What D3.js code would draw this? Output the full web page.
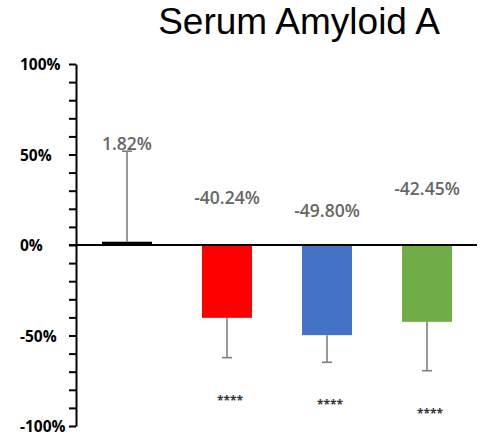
<!DOCTYPE html>
<html>
<head>
<meta charset="utf-8">
<script src="https://cdn.jsdelivr.net/npm/d3@7"></script>
<style>
  html, body { margin: 0; padding: 0; background: #fff; }
  svg { display: block; }
</style>
</head>
<body>
<svg id="chart" width="487" height="444"></svg>
<script>
// Percent change in serum amyloid A per group
const groups = ["G1", "G2", "G3", "G4"];
const changes = [1.82, -40.24, -49.80, -42.45];
const errors = [50, 22, 15, 27];
const barColors = ["#000000", "#ff0000", "#4472c4", "#70ad47"];
const significance = ["", "****", "****", "****"];
const majorTicks = [-100, -50, 0, 50, 100];
const minorTicks = d3.range(-100, 101, 10);

const svg = d3.select("#chart");

const x = d3.scaleBand().domain(groups).range([77, 477]).paddingInner(0.5).paddingOuter(0.25);
const y = d3.scaleLinear().domain([-100, 100]).range([426, 64]);

// Title
svg.append("text")
  .attr("x", 299).attr("y", 34)
  .attr("text-anchor", "middle")
  .attr("font-family", "Liberation Sans, Arial, sans-serif")
  .attr("font-size", 37)
  .attr("fill", "#000")
  .text("Serum Amyloid A");

// Bars
svg.selectAll("rect.bar").data(groups).join("rect")
  .attr("class", "bar")
  .attr("x", d => x(d))
  .attr("width", x.bandwidth())
  .attr("y", (d, i) => y(Math.max(0, changes[i])))
  .attr("height", (d, i) => Math.abs(y(changes[i]) - y(0)))
  .attr("fill", (d, i) => barColors[i]);

// Error bars (one-sided, away from zero)
const errEnd = i => changes[i] >= 0 ? changes[i] + errors[i] : changes[i] - errors[i];
const eb = svg.append("g").attr("stroke", "#7f7f7f").attr("stroke-width", 1.6);
groups.forEach((g, i) => {
  const cx = x(g) + x.bandwidth() / 2;
  eb.append("line").attr("x1", cx).attr("x2", cx).attr("y1", y(changes[i])).attr("y2", y(errEnd(i)));
  eb.append("line").attr("x1", cx - 5).attr("x2", cx + 5).attr("y1", y(errEnd(i))).attr("y2", y(errEnd(i)));
});

// Zero line
svg.append("line")
  .attr("x1", 69).attr("x2", 477)
  .attr("y1", y(0)).attr("y2", y(0))
  .attr("stroke", "#000").attr("stroke-width", 2);

// Y axis: minor ticks every 10%, labels on the 50% steps (left-aligned column)
const axis = d3.axisLeft(y)
  .tickValues(minorTicks)
  .tickSize(7)
  .tickSizeOuter(0)
  .tickFormat(d => majorTicks.includes(d) ? d + "%" : "");
const ag = svg.append("g").attr("transform", "translate(76,0)").call(axis);
ag.select(".domain").attr("stroke", "#000").attr("stroke-width", 2);
ag.selectAll(".tick line").attr("stroke", "#000").attr("stroke-width", 2);
ag.selectAll(".tick text")
  .attr("x", -56)
  .attr("dy", "0.36em")
  .attr("text-anchor", "start")
  .attr("font-family", "Open Sans, sans-serif")
  .attr("font-weight", "bold")
  .attr("font-size", 15.5)
  .attr("fill", "#000");

// Value labels
svg.selectAll("text.val").data(groups).join("text")
  .attr("class", "val")
  .attr("x", d => x(d) + x.bandwidth() / 2)
  .attr("y", (d, i) => y(Math.max(0, changes[i]) + errors[i]) - 1)
  .attr("text-anchor", "middle")
  .attr("font-family", "Open Sans, sans-serif")
  .attr("font-weight", 600)
  .attr("font-size", 17.5)
  .attr("fill", "#666")
  .text((d, i) => (changes[i] >= 0 ? "" : "-") + Math.abs(changes[i]).toFixed(2) + "%");

// Significance stars
svg.selectAll("text.sig").data(groups).join("text")
  .attr("class", "sig")
  .attr("x", d => x(d) + x.bandwidth() / 2 + 3)
  .attr("y", (d, i) => y(errEnd(i)) + 47)
  .attr("text-anchor", "middle")
  .attr("font-family", "Open Sans, sans-serif")
  .attr("font-weight", "bold")
  .attr("font-size", 12)
  .attr("fill", "#333")
  .text((d, i) => significance[i]);
</script>
</body>
</html>
